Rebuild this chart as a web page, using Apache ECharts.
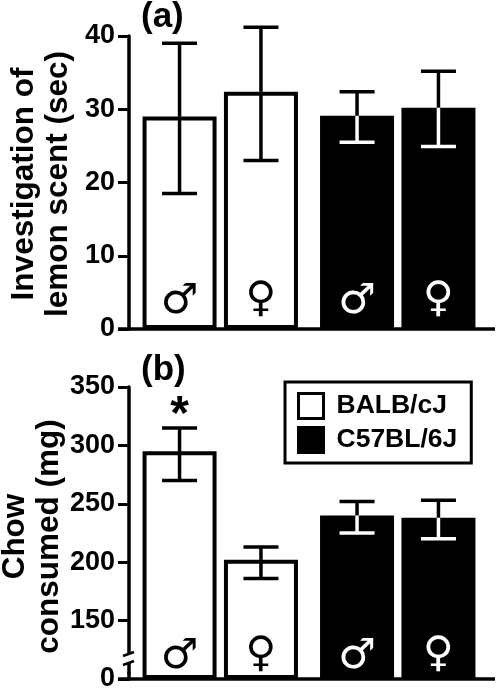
<!DOCTYPE html>
<html>
<head>
<meta charset="utf-8">
<style>html,body{margin:0;padding:0;background:#fff}#main{width:498px;height:690px}</style>
<script src="https://cdn.jsdelivr.net/npm/echarts@6/dist/echarts.min.js"></script>
</head>
<body>
<div id="main"></div>
<script>
var strains = ['BALB/cJ', 'C57BL/6J'];
var sexes = ['♂', '♀'];

// lemon scent, sec
var scentMale = [29, 29.1];
var scentFemale = [32.4, 30.2];
var scentMaleHi = [39, 32.4];
var scentMaleLo = [18.5, 25.5];
var scentFemaleHi = [41.2, 35.2];
var scentFemaleLo = [23, 24.9];

// chow, mg
var chowMale = [295, 240];
var chowFemale = [202, 238];
var chowMaleHi = [315, 252];
var chowMaleLo = [270, 225];
var chowFemaleHi = [213, 253];
var chowFemaleLo = [186, 220];
var chowMarks = ['*', ''];

var scentTicks = [0, 10, 20, 30, 40];
var chowTicks = [0, 150, 200, 250, 300, 350];

var FONT = '"Liberation Sans", Arial, sans-serif';
var BAR_W = 74;
var BAR_GAP = '10%';
var fills = ['#fff', '#000'];
var inks = ['#000', '#fff'];

function barSeries(idx, vals, sexIdx) {
    return {
        type: 'bar',
        name: sexes[sexIdx],
        xAxisIndex: idx,
        yAxisIndex: idx,
        barWidth: BAR_W,
        barGap: BAR_GAP,
        data: vals.map(function (v, i) {
            return {
                value: v,
                itemStyle: { color: fills[i], borderColor: '#000', borderWidth: 4 },
                label: { color: inks[i] }
            };
        }),
        label: {
            show: true,
            position: 'insideBottom',
            distance: (idx == 0 ? 6 : 1) + sexIdx * 2,
            formatter: sexes[sexIdx],
            fontFamily: '"DejaVu Sans"',
            fontSize: 42
        }
    };
}

function errSeries(idx, vals, hi, lo, sexIdx, marks) {
    return {
        type: 'custom',
        xAxisIndex: idx,
        yAxisIndex: idx,
        z: 5,
        clip: false,
        silent: true,
        encode: { x: 0, y: 1 },
        data: vals.map(function (v, i) { return [i, v, hi[i], lo[i]]; }),
        renderItem: function (params, api) {
            var layout = api.barLayout({ barWidth: BAR_W, barGap: BAR_GAP, count: 2 });
            var i = api.value(0);
            var x = api.coord([i, 0])[0] + layout[sexIdx].offsetCenter;
            var top = api.coord([i, api.value(1)])[1];
            var h = api.coord([i, api.value(2)])[1];
            var l = api.coord([i, api.value(3)])[1];
            var capW = 17.5;
            function seg(x1, y1, x2, y2, c) {
                return { type: 'line', shape: { x1: x1, y1: y1, x2: x2, y2: y2 }, style: { stroke: c, lineWidth: 3.5 } };
            }
            var low = inks[i];
            var kids = [
                seg(x, h, x, top, '#000'),
                seg(x - capW, h, x + capW, h, '#000'),
                seg(x, top, x, l, low),
                seg(x - capW, l, x + capW, l, low)
            ];
            if (marks && marks[i] && sexIdx == 0) {
                kids.push({
                    type: 'text',
                    style: { text: marks[i], x: x, y: h + 12, fill: '#000', align: 'center', verticalAlign: 'bottom', font: 'bold 48px ' + FONT }
                });
            }
            return { type: 'group', children: kids };
        }
    };
}

var myChart = echarts.init(document.getElementById('main'), null, { renderer: 'canvas' });

var option = {
    backgroundColor: '#fff',
    animation: false,
    title: [
        { text: '(a)', left: 141, top: 0, padding: 0, textStyle: { fontFamily: FONT, fontWeight: 'bold', fontSize: 35, color: '#000' } },
        { text: '(b)', left: 141, top: 353, padding: 0, textStyle: { fontFamily: FONT, fontWeight: 'bold', fontSize: 35, color: '#000' } }
    ],
    legend: {
        left: 285,
        top: 382,
        orient: 'vertical',
        padding: [10, 14, 9, 12],
        itemWidth: 25,
        itemHeight: 25,
        itemGap: 6,
        borderColor: '#000',
        borderWidth: 3,
        selectedMode: false,
        textStyle: { fontFamily: FONT, fontWeight: 'bold', fontSize: 26.5, color: '#000', padding: [0, 0, 0, 8] },
        data: [
            { name: strains[0], icon: 'rect', itemStyle: { color: '#fff', borderColor: '#000', borderWidth: 3 } },
            { name: strains[1], icon: 'rect', itemStyle: { color: '#000', borderColor: '#000', borderWidth: 3 } }
        ]
    },
    grid: [
        { left: 131.5, top: 36, width: 355, height: 293, outerBoundsMode: 'none' },
        { left: 131.5, top: 387, width: 355, height: 292, outerBoundsMode: 'none' }
    ],
    xAxis: [0, 1].map(function (i) {
        return {
            type: 'category',
            gridIndex: i,
            data: strains,
            axisLine: { show: false },
            axisTick: { show: false },
            axisLabel: { show: false }
        };
    }),
    yAxis: [
        {
            type: 'value',
            gridIndex: 0,
            min: 0,
            max: 40,
            interval: 10,
            offset: 2.5,
            name: 'Investigation of\nlemon scent (sec)',
            nameLocation: 'middle',
            nameRotate: 90,
            nameGap: 54,
            nameMoveOverlap: false,
            nameTextStyle: { fontFamily: FONT, fontWeight: 'bold', fontSize: 31.5, lineHeight: 34, color: '#000', padding: [0, 3, 0, 0] },
            splitLine: { show: false },
            axisLine: { show: true, lineStyle: { color: '#000', width: 3.5 } },
            axisTick: { show: true, length: 11, lineStyle: { color: '#000', width: 3 } },
            axisLabel: { margin: 14, fontFamily: FONT, fontWeight: 'bold', fontSize: 27, color: '#000', customValues: scentTicks }
        },
        {
            type: 'value',
            gridIndex: 1,
            min: 0,
            max: 350,
            interval: 50,
            offset: 2.5,
            breaks: [{ start: 5, end: 105, gap: 0 }],
            breakArea: { show: false },
            name: 'Chow\nconsumed (mg)',
            nameLocation: 'middle',
            nameRotate: 90,
            nameGap: 63,
            nameMoveOverlap: false,
            nameTextStyle: { fontFamily: FONT, fontWeight: 'bold', fontSize: 31.5, lineHeight: 34, color: '#000', padding: [0, 7, 0, 0] },
            splitLine: { show: false },
            axisLine: { show: true, lineStyle: { color: '#000', width: 3.5 } },
            axisTick: { show: true, length: 11, customValues: chowTicks, lineStyle: { color: '#000', width: 3 } },
            axisLabel: { margin: 14, fontFamily: FONT, fontWeight: 'bold', fontSize: 27, color: '#000', customValues: chowTicks }
        }
    ],
    series: [
        barSeries(0, scentMale, 0),
        barSeries(0, scentFemale, 1),
        errSeries(0, scentMale, scentMaleHi, scentMaleLo, 0),
        errSeries(0, scentFemale, scentFemaleHi, scentFemaleLo, 1),
        barSeries(1, chowMale, 0),
        barSeries(1, chowFemale, 1),
        errSeries(1, chowMale, chowMaleHi, chowMaleLo, 0, chowMarks),
        errSeries(1, chowFemale, chowFemaleHi, chowFemaleLo, 1),
        { type: 'custom', name: strains[0], data: [], renderItem: function () { return null; } },
        { type: 'custom', name: strains[1], data: [], renderItem: function () { return null; } }
    ]
};
myChart.setOption(option);

// baselines run past the last bar, axis gets a break mark
var y0a = myChart.convertToPixel({ yAxisIndex: 0 }, 0);
var y0b = myChart.convertToPixel({ yAxisIndex: 1 }, 0);
function baseline(y) {
    return { type: 'line', z: 6, shape: { x1: 118, y1: y, x2: 495, y2: y }, style: { stroke: '#000', lineWidth: 3.5 } };
}
function slash(y) {
    return { type: 'line', z: 7, shape: { x1: 123, y1: y + 3, x2: 134, y2: y - 1 }, style: { stroke: '#000', lineWidth: 2.5 } };
}
myChart.setOption({
    graphic: [
        baseline(y0a),
        baseline(y0b),
        { type: 'rect', z: 6, shape: { x: 126, y: 654, width: 6, height: 9 }, style: { fill: '#fff' } },
        slash(653),
        slash(662)
    ]
});
</script>
</body>
</html>
